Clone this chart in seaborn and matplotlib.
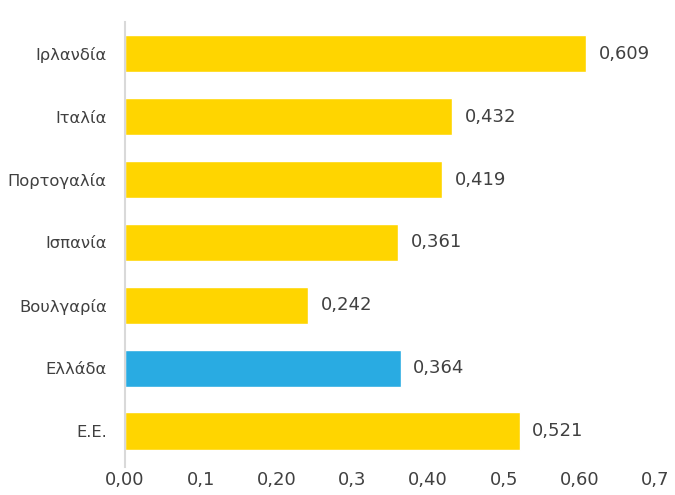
import matplotlib
matplotlib.use("Agg")
import matplotlib.pyplot as plt
import pandas as pd
import seaborn as sns

# data
countries = ["Ιρλανδία", "Ιταλία", "Πορτογαλία", "Ισπανία", "Βουλγαρία", "Ελλάδα", "Ε.Ε."]
values = [0.609, 0.432, 0.419, 0.361, 0.242, 0.364, 0.521]
tick_values = [0.0, 0.1, 0.2, 0.3, 0.4, 0.5, 0.6, 0.7]
tick_labels = ["0,00", "0,1", "0,20", "0,3", "0,40", "0,5", "0,60", "0,7"]

yellow = "#FFD500"
blue = "#29ABE2"
text_color = "#404040"

df = pd.DataFrame({"country": countries, "value": values})
df["group"] = ["Ελλάδα" if c == "Ελλάδα" else "other" for c in countries]

sns.set_style("white")
plt.rcParams["font.family"] = ["DejaVu Sans"]

fig = plt.figure(figsize=(6.75, 4.95), dpi=100)
ax = fig.add_axes([0.185, 0.057, 0.805, 0.899])

sns.barplot(
    data=df,
    x="value",
    y="country",
    hue="group",
    palette={"other": yellow, "Ελλάδα": blue},
    saturation=1,
    dodge=False,
    width=0.59,
    legend=False,
    ax=ax,
)

for container in ax.containers:
    ax.bar_label(
        container,
        labels=[f"{v:.3f}".replace(".", ",") for v in container.datavalues],
        padding=9,
        fontsize=13,
        color=text_color,
    )

ax.set_xlim(0, 0.717)
ax.set_ylim(6.57, -0.51)
ax.set_xticks(tick_values)
ax.set_xticklabels(tick_labels)
ax.set_xlabel("")
ax.set_ylabel("")
ax.tick_params(axis="x", length=0, labelsize=13, colors=text_color, pad=3)
ax.tick_params(axis="y", length=0, labelsize=11.8, colors=text_color, pad=13)

for side in ["top", "right", "bottom"]:
    ax.spines[side].set_visible(False)
ax.spines["left"].set_color("#D9D9D9")
ax.spines["left"].set_linewidth(1.5)

plt.savefig("out.png", dpi=100)
